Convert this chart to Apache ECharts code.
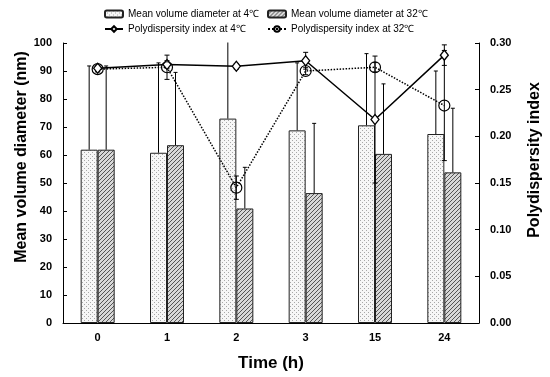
<!DOCTYPE html>
<html><head><meta charset="utf-8">
<script src="https://cdn.jsdelivr.net/npm/echarts@6/dist/echarts.min.js"></script>
<style>html,body{margin:0;padding:0;background:#fff}#c{width:550px;height:377px}</style>
</head><body><div id="c"></div>
<script>
// ---- data ----
const categories = ['0', '1', '2', '3', '15', '24'];
const diam4 = [61.9, 60.8, 73.0, 68.8, 70.6, 67.5];
const diam4Err = [29.9, 32.1, 30.0, 24.1, 25.6, 22.5];
const diam32 = [61.9, 63.5, 40.9, 46.4, 60.4, 53.8];
const diam32Err = [29.9, 26.0, 14.7, 24.9, 25.0, 22.9];
const pdi4 = [0.273, 0.277, 0.275, 0.281, 0.218, 0.287];
const pdi4Err = [0.003, 0.004, 0.003, 0.009, 0.068, 0.011];
const pdi32 = [0.272, 0.274, 0.145, 0.270, 0.274, 0.233];
const pdi32Err = [0.003, 0.013, 0.0125, 0.004, 0.005, 0.059];
const leftTicks = {min: 0, max: 100, interval: 10};
const rightTicks = {min: 0, max: 0.30, interval: 0.05};

// ---- patterns ----
function dotPattern() {
  const c = document.createElement('canvas'); c.width = 4; c.height = 4;
  const g = c.getContext('2d');
  g.fillStyle = '#f7f7f7'; g.fillRect(0, 0, 4, 4);
  g.fillStyle = '#a8a8a8'; g.fillRect(0, 0, 1, 1); g.fillRect(2, 2, 1, 1);
  return c;
}
function hatchPattern() {
  const c = document.createElement('canvas'); c.width = 4; c.height = 4;
  const g = c.getContext('2d');
  g.fillStyle = '#d8d8d8'; g.fillRect(0, 0, 4, 4);
  g.fillStyle = '#555';
  for (let i = 0; i < 4; i++) g.fillRect(i, 3 - i, 1, 1);
  return c;
}
const dotFill = {image: dotPattern(), repeat: 'repeat'};
const hatchFill = {image: hatchPattern(), repeat: 'repeat'};

const FONT = 'Liberation Sans, Arial, sans-serif';
const BARW = 17;

function errRender(offset, both, capW) {
  return function (params, api) {
    const i = api.value(0), v = api.value(1), e = api.value(2);
    const c0 = api.coord([i, v]);
    const x = c0[0] + offset;
    const top = api.coord([i, v + e])[1];
    const bot = both ? api.coord([i, v - e])[1] : c0[1];
    const style = {stroke: '#000', lineWidth: 1};
    const cs = params.coordSys;
    const children = [
      {type: 'line', shape: {x1: x, y1: top, x2: x, y2: bot}, style: style},
      {type: 'line', shape: {x1: x - capW / 2, y1: top, x2: x + capW / 2, y2: top}, style: style}
    ];
    if (both) children.push({type: 'line', shape: {x1: x - capW / 2, y1: bot, x2: x + capW / 2, y2: bot}, style: style});
    return {
      type: 'group',
      clipPath: {type: 'rect', shape: {x: cs.x, y: cs.y - 0.5, width: cs.width, height: cs.height + 1}},
      children: children
    };
  };
}
function errData(vals, errs) { return vals.map((v, i) => [i, v, errs[i]]); }

const N4 = 'Mean volume diameter at 4℃';
const N32 = 'Mean volume diameter at 32℃';
const P4 = 'Polydispersity index at 4℃';
const P32 = 'Polydispersity index at 32℃';

const chart = echarts.init(document.getElementById('c'), null, {renderer: 'canvas'});
const legendCommon = {
  orient: 'vertical', top: 4, itemGap: 5, itemWidth: 18, itemHeight: 7,
  textStyle: {fontFamily: FONT, fontSize: 10, color: '#000'}
};
chart.setOption({
  animation: false,
  backgroundColor: '#fff',
  grid: {left: 63, right: 71, top: 43, bottom: 46},
  legend: [
    Object.assign({left: 99, data: [N4, P4]}, legendCommon),
    Object.assign({left: 262, data: [N32, P32]}, legendCommon)
  ],
  xAxis: {
    type: 'category', data: categories,
    axisLine: {lineStyle: {color: '#000', width: 1}},
    axisTick: {show: false},
    axisLabel: {fontFamily: FONT, fontWeight: 'bold', fontSize: 11, color: '#000', margin: 9},
    name: 'Time (h)', nameLocation: 'middle', nameGap: 32,
    nameTextStyle: {fontFamily: FONT, fontWeight: 'bold', fontSize: 17, color: '#000'}
  },
  yAxis: [
    {
      type: 'value', min: leftTicks.min, max: leftTicks.max, interval: leftTicks.interval,
      axisLine: {show: true, lineStyle: {color: '#000', width: 1}},
      axisTick: {show: true, inside: true, length: 4, lineStyle: {color: '#000'}},
      axisLabel: {fontFamily: FONT, fontWeight: 'bold', fontSize: 11, color: '#000', margin: 11},
      splitLine: {show: false}
    },
    {
      type: 'value', min: rightTicks.min, max: rightTicks.max, interval: rightTicks.interval,
      axisLine: {show: true, lineStyle: {color: '#000', width: 1}},
      axisTick: {show: true, inside: true, length: 4, lineStyle: {color: '#000'}},
      axisLabel: {fontFamily: FONT, fontWeight: 'bold', fontSize: 11, color: '#000', margin: 11,
        formatter: v => v.toFixed(2)},
      splitLine: {show: false}
    }
  ],
  graphic: [
    {type: 'text', rotation: Math.PI / 2, x: 22, y: 157,
      style: {text: 'Mean volume diameter (nm)', fontFamily: FONT, fontWeight: 'bold', fontSize: 16,
        fill: '#000', align: 'center', verticalAlign: 'middle'}},
    {type: 'text', rotation: Math.PI / 2, x: 535, y: 160,
      style: {text: 'Polydispersity index', fontFamily: FONT, fontWeight: 'bold', fontSize: 16,
        fill: '#000', align: 'center', verticalAlign: 'middle'}}
  ],
  series: [
    {name: N4, type: 'bar', data: diam4, barWidth: BARW, barGap: '0%', z: 2,
      itemStyle: {color: dotFill, borderColor: '#222', borderWidth: 1}},
    {name: N32, type: 'bar', data: diam32, barWidth: BARW, barGap: '0%', z: 2,
      itemStyle: {color: hatchFill, borderColor: '#222', borderWidth: 1}},
    {type: 'custom', data: errData(diam4, diam4Err), renderItem: errRender(-BARW / 2, false, 4), z: 3, silent: true},
    {type: 'custom', data: errData(diam32, diam32Err), renderItem: errRender(BARW / 2, false, 4), z: 3, silent: true},
    {type: 'custom', yAxisIndex: 1, data: errData(pdi4, pdi4Err), renderItem: errRender(0, true, 5), z: 4, silent: true},
    {type: 'custom', yAxisIndex: 1, data: errData(pdi32, pdi32Err), renderItem: errRender(0, true, 5), z: 4, silent: true},
    {name: P4, type: 'line', yAxisIndex: 1, data: pdi4, z: 5,
      symbol: 'diamond', symbolSize: [8, 10], showAllSymbol: true,
      lineStyle: {color: '#000', width: 1.5},
      itemStyle: {color: '#fff', borderColor: '#000', borderWidth: 1.3}},
    {name: P32, type: 'line', yAxisIndex: 1, data: pdi32, z: 5,
      symbol: 'circle', symbolSize: 11, showAllSymbol: true,
      lineStyle: {color: '#000', width: 1.5, type: 'dotted'},
      itemStyle: {color: 'rgba(255,255,255,0)', borderColor: '#000', borderWidth: 1.2}}
  ]
});
</script></body></html>
